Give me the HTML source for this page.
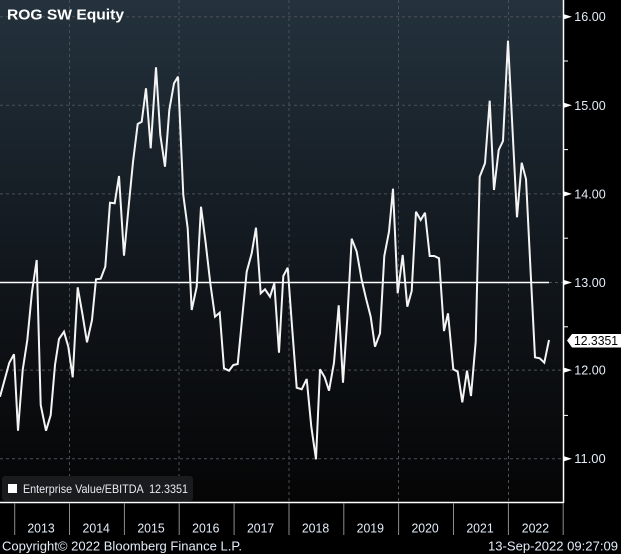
<!DOCTYPE html>
<html>
<head>
<meta charset="utf-8">
<style>
html,body{margin:0;padding:0;background:#000;}
body{width:621px;height:554px;overflow:hidden;}
svg{display:block;}
text{font-family:"Liberation Sans",sans-serif;}
</style>
</head>
<body>
<svg width="621" height="554" viewBox="0 0 621 554" xmlns="http://www.w3.org/2000/svg">
<defs>
<linearGradient id="bg" x1="0" y1="0" x2="0" y2="1">
<stop offset="0" stop-color="#24323d"/>
<stop offset="0.5" stop-color="#12181e"/>
<stop offset="1" stop-color="#050505"/>
</linearGradient>
</defs>
<rect x="0" y="0" width="621" height="554" fill="#000"/>
<rect x="0" y="0" width="563.5" height="502" fill="url(#bg)"/>

<!-- grid -->
<g stroke="#4a5056" stroke-width="1" stroke-dasharray="3,3" fill="none">
<line x1="0" y1="16.7" x2="563" y2="16.7"/>
<line x1="0" y1="105.3" x2="563" y2="105.3"/>
<line x1="0" y1="193.9" x2="563" y2="193.9"/>
<line x1="549" y1="282.5" x2="563" y2="282.5"/>
<line x1="0" y1="370.1" x2="563" y2="370.1"/>
<line x1="0" y1="458.7" x2="563" y2="458.7"/>
<line x1="69.5" y1="0" x2="69.5" y2="502"/>
<line x1="179" y1="0" x2="179" y2="502"/>
<line x1="289" y1="0" x2="289" y2="502"/>
<line x1="398.5" y1="0" x2="398.5" y2="502"/>
<line x1="508.5" y1="0" x2="508.5" y2="502"/>
</g>

<!-- reference line at 13.00 -->
<line x1="0" y1="282.5" x2="549" y2="282.5" stroke="#ffffff" stroke-width="1.5"/>

<!-- series -->
<polyline fill="none" stroke="#f4f4f4" stroke-width="2" stroke-linejoin="miter" stroke-miterlimit="3" points="
0,396.7 9.3,362.7 14,354.3 18,430.7 22.7,370 27.3,340 32,291.7 36.7,260 40.7,405 46,430.7 50.7,415 55,365 59,339 64,331.7 68.3,346.7 72.7,377.3 77.7,287.3 82.3,313.3 87,342.3 92,320 96,279.3 100.7,278.7 105.3,266.7 110,202.7 114.7,203.3 119,176 124,255.7 128.3,210 133,162 137.7,124 141.7,121.7 146,88.3 150.7,148.3 156,67.3 160.3,135 165,166.7 169.3,110 174,83.3 178,76.7 183.3,195 187.7,228.3 191.7,310 196.7,286.7 201,206.7 205.7,243.3 210.3,283.3 215,316.7 219.7,312.7 224,368.3 229,370.7 233.3,365 237.7,364 242.3,316.7 246.7,271.7 251.7,253.3 256,227.7 260.7,293.3 265,289.3 270,296.7 274.3,283.3 279,352.7 283.3,276 287.7,267.7 292.3,330 296.7,387.7 301.7,389.3 306.7,379 311.3,426.7 316,459.3 320,369.3 324.7,377.3 329,390.7 334,362.7 338.7,305.3 343,382.7 347.3,318.3 351.7,238.7 356.7,251.7 361.7,280 366,298.3 370.7,316.7 375,346.7 380,333.3 384.3,256 389,231.7 393,188.7 397.7,293.3 402.7,255 407.3,306.7 411.7,291 416,211.7 420.7,220 425,212.7 429.7,256 434.3,256 439,258.3 444,331 448,313.3 453.3,369.3 457.7,371.7 462.3,402.3 467,370.7 471,396 475.7,341.7 479.7,176.7 485,163.3 489.7,100.7 494,190 498.7,150 503,141 508,40.7 512.7,133.3 517,217.3 521.7,162.7 526,179 530.7,273.3 535,357.3 539.7,358.3 544.3,362.7 549,340"/>

<!-- title -->
<text x="7" y="19.3" font-size="15" font-weight="bold" fill="#ffffff" textLength="117" lengthAdjust="spacingAndGlyphs">ROG SW Equity</text>

<!-- legend -->
<rect x="2" y="476" width="191" height="25" rx="3" ry="3" fill="#1a1b1c"/>
<rect x="8" y="484" width="9" height="9" fill="#ffffff"/>
<text x="23" y="493" font-size="12" fill="#e6ecf2" textLength="165" lengthAdjust="spacingAndGlyphs" xml:space="preserve">Enterprise Value/EBITDA  12.3351</text>

<!-- axes -->
<line x1="563.5" y1="0" x2="563.5" y2="503" stroke="#ffffff" stroke-width="1.5"/>
<line x1="0" y1="502.5" x2="564" y2="502.5" stroke="#ffffff" stroke-width="1.5"/>

<!-- y ticks -->
<g fill="#ffffff">
<polygon points="564,14.2 572,16.7 564,19.2"/>
<polygon points="564,102.8 572,105.3 564,107.8"/>
<polygon points="564,191.4 572,193.9 564,196.4"/>
<polygon points="564,280 572,282.5 564,285"/>
<polygon points="564,367.6 572,370.1 564,372.6"/>
<polygon points="564,456.2 572,458.7 564,461.2"/>
</g>
<g stroke="#ffffff" stroke-width="1">
<line x1="564" y1="61" x2="568" y2="61"/>
<line x1="564" y1="149.6" x2="568" y2="149.6"/>
<line x1="564" y1="238.2" x2="568" y2="238.2"/>
<line x1="564" y1="326.8" x2="568" y2="326.8"/>
<line x1="564" y1="415.4" x2="568" y2="415.4"/>
</g>
<g font-size="12.5" fill="#e2ecf8">
<text x="574.3" y="21.2" textLength="31.4" lengthAdjust="spacingAndGlyphs">16.00</text>
<text x="574.3" y="109.8" textLength="31.4" lengthAdjust="spacingAndGlyphs">15.00</text>
<text x="574.3" y="198.4" textLength="31.4" lengthAdjust="spacingAndGlyphs">14.00</text>
<text x="574.3" y="287" textLength="31.4" lengthAdjust="spacingAndGlyphs">13.00</text>
<text x="574.3" y="374.6" textLength="31.4" lengthAdjust="spacingAndGlyphs">12.00</text>
<text x="574.3" y="463.2" textLength="31.4" lengthAdjust="spacingAndGlyphs">11.00</text>
</g>

<!-- last value label -->
<polygon points="567,340.5 572,334 621,334 621,347.5 572,347.5" fill="#ffffff"/>
<text x="574" y="345.2" font-size="12.5" fill="#000000" textLength="44" lengthAdjust="spacingAndGlyphs">12.3351</text>

<!-- x ticks -->
<g stroke="#8c8c8c" stroke-width="1">
<line x1="14.7" y1="503" x2="14.7" y2="535"/>
<line x1="69.5" y1="503" x2="69.5" y2="535"/>
<line x1="124.4" y1="503" x2="124.4" y2="535"/>
<line x1="179.2" y1="503" x2="179.2" y2="535"/>
<line x1="234.1" y1="503" x2="234.1" y2="535"/>
<line x1="289" y1="503" x2="289" y2="535"/>
<line x1="343.8" y1="503" x2="343.8" y2="535"/>
<line x1="398.6" y1="503" x2="398.6" y2="535"/>
<line x1="453.5" y1="503" x2="453.5" y2="535"/>
<line x1="508.4" y1="503" x2="508.4" y2="535"/>
<line x1="563.2" y1="503" x2="563.2" y2="535"/>
</g>
<g font-size="12.5" fill="#e2ecf8" text-anchor="middle">
<text x="41" y="532.5" textLength="27.3" lengthAdjust="spacingAndGlyphs">2013</text>
<text x="96.2" y="532.5" textLength="27.3" lengthAdjust="spacingAndGlyphs">2014</text>
<text x="151" y="532.5" textLength="27.3" lengthAdjust="spacingAndGlyphs">2015</text>
<text x="205.8" y="532.5" textLength="27.3" lengthAdjust="spacingAndGlyphs">2016</text>
<text x="260.6" y="532.5" textLength="27.3" lengthAdjust="spacingAndGlyphs">2017</text>
<text x="315.5" y="532.5" textLength="27.3" lengthAdjust="spacingAndGlyphs">2018</text>
<text x="370.3" y="532.5" textLength="27.3" lengthAdjust="spacingAndGlyphs">2019</text>
<text x="425.1" y="532.5" textLength="27.3" lengthAdjust="spacingAndGlyphs">2020</text>
<text x="480" y="532.5" textLength="27.3" lengthAdjust="spacingAndGlyphs">2021</text>
<text x="535.4" y="532.5" textLength="27.3" lengthAdjust="spacingAndGlyphs">2022</text>
</g>

<!-- footer -->
<text x="2" y="550.5" font-size="13" fill="#e2ecf8" textLength="240" lengthAdjust="spacingAndGlyphs">Copyright© 2022 Bloomberg Finance L.P.</text>
<text x="488" y="550.5" font-size="13" fill="#e2ecf8" textLength="130" lengthAdjust="spacingAndGlyphs">13-Sep-2022 09:27:09</text>
</svg>
</body>
</html>
